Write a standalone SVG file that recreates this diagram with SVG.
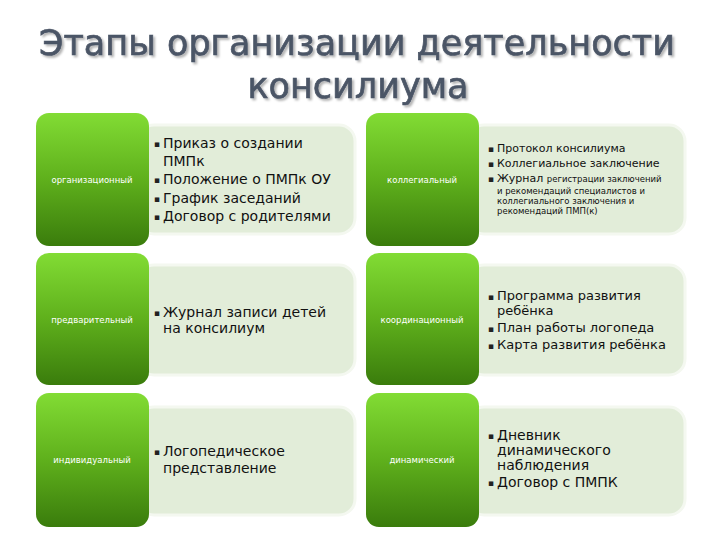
<svg xmlns="http://www.w3.org/2000/svg" width="720" height="540" viewBox="0 0 720 540">
<style>
.title{font-family:"DejaVu Sans",Verdana,sans-serif;font-size:35px;fill:#4b5566;stroke:#4b5566;stroke-width:0.7;text-anchor:middle}
.lbl{font-family:"DejaVu Sans",Verdana,sans-serif;font-size:8.5px;fill:#ffffff;text-anchor:middle}
.t{font-family:"DejaVu Sans",Verdana,sans-serif;font-size:14px;fill:#111111}
.m{font-family:"DejaVu Sans",Verdana,sans-serif;font-size:13px;fill:#111111}
.s{font-family:"DejaVu Sans",Verdana,sans-serif;font-size:11px;fill:#111111}
.xs{font-family:"DejaVu Sans",Verdana,sans-serif;font-size:8.5px;fill:#111111}
.b{font-family:"DejaVu Sans",Verdana,sans-serif;font-size:9px;fill:#222222}
.g{fill:url(#gr)}
.p{fill:#e2edd9;stroke:#f4f8f0;stroke-width:3}
</style>
<defs>
<linearGradient id="gr" x1="0" y1="0" x2="0" y2="1">
<stop offset="0" stop-color="#82dc34"/>
<stop offset="0.5" stop-color="#5fb01c"/>
<stop offset="1" stop-color="#3a7c0c"/>
</linearGradient>
<filter id="sh" x="-5%" y="-20%" width="110%" height="140%">
<feGaussianBlur in="SourceAlpha" stdDeviation="1.2"/>
<feOffset dx="2" dy="2" result="b"/>
<feFlood flood-color="#000" flood-opacity="0.3"/>
<feComposite in2="b" operator="in"/>
<feMerge><feMergeNode/><feMergeNode in="SourceGraphic"/></feMerge>
</filter>
</defs>
<rect width="720" height="540" fill="#ffffff"/>
<g id="title" filter="url(#sh)">
<text class="title" x="357" y="55">Этапы организации деятельности</text>
<text class="title" x="358" y="98">консилиума</text>
</g>

<g id="row1-left">
<rect class="p" x="138" y="125" width="217" height="109" rx="16"/>
<rect class="g" x="36" y="113" width="113" height="133" rx="13"/>
<text class="lbl" x="92" y="183">организационный</text>
<text class="b" x="154" y="147">▪</text>
<text class="t" x="163" y="148">Приказ о создании</text>
<text class="t" x="163" y="166">ПМПк</text>
<text class="b" x="154" y="183">▪</text>
<text class="t" x="163" y="184">Положение о ПМПк ОУ</text>
<text class="b" x="154" y="202">▪</text>
<text class="t" x="163" y="203">График  заседаний</text>
<text class="b" x="154" y="220">▪</text>
<text class="t" x="163" y="221">Договор с родителями</text>
</g>

<g id="row1-right">
<rect class="p" x="468" y="125" width="217" height="109" rx="16"/>
<rect class="g" x="366" y="113" width="113" height="133" rx="13"/>
<text class="lbl" x="422" y="183">коллегиальный</text>
<text class="b" x="488" y="152">▪</text>
<text class="s" x="497" y="152">Протокол консилиума</text>
<text class="b" x="488" y="167">▪</text>
<text class="s" x="497" y="167">Коллегиальное заключение</text>
<text class="b" x="488" y="182">▪</text>
<text class="s" x="497" y="182">Журнал <tspan class="xs">регистрации заключений</tspan></text>
<text class="xs" x="497" y="194">и рекомендаций специалистов и</text>
<text class="xs" x="497" y="204">коллегиального заключения и</text>
<text class="xs" x="497" y="214">рекомендаций ПМП(к)</text>
</g>

<g id="row2-left">
<rect class="p" x="138" y="265" width="217" height="110" rx="16"/>
<rect class="g" x="36" y="253" width="113" height="132" rx="13"/>
<text class="lbl" x="92" y="323">предварительный</text>
<text class="b" x="154" y="316">▪</text>
<text class="t" x="163" y="317">Журнал записи детей</text>
<text class="t" x="163" y="333">на консилиум</text>
</g>

<g id="row2-right">
<rect class="p" x="468" y="265" width="217" height="110" rx="16"/>
<rect class="g" x="366" y="253" width="113" height="132" rx="13"/>
<text class="lbl" x="422" y="323">координационный</text>
<text class="b" x="488" y="300">▪</text>
<text class="m" x="497" y="300">Программа развития</text>
<text class="m" x="497" y="315">ребёнка</text>
<text class="b" x="488" y="332">▪</text>
<text class="m" x="497" y="332">План работы логопеда</text>
<text class="b" x="488" y="349">▪</text>
<text class="m" x="497" y="349">Карта развития ребёнка</text>
</g>

<g id="row3-left">
<rect class="p" x="138" y="407" width="217" height="108" rx="16"/>
<rect class="g" x="36" y="393" width="113" height="134" rx="13"/>
<text class="lbl" x="92" y="463">индивидуальный</text>
<text class="b" x="154" y="455">▪</text>
<text class="t" x="163" y="456">Логопедическое</text>
<text class="t" x="163" y="473">представление</text>
</g>

<g id="row3-right">
<rect class="p" x="468" y="407" width="217" height="108" rx="16"/>
<rect class="g" x="366" y="393" width="113" height="134" rx="13"/>
<text class="lbl" x="422" y="463">динамический</text>
<text class="b" x="488" y="439">▪</text>
<text class="t" x="497" y="440">Дневник</text>
<text class="t" x="497" y="455">динамического</text>
<text class="t" x="497" y="470">наблюдения</text>
<text class="b" x="488" y="486">▪</text>
<text class="t" x="497" y="487">Договор с ПМПК</text>
</g>
</svg>
